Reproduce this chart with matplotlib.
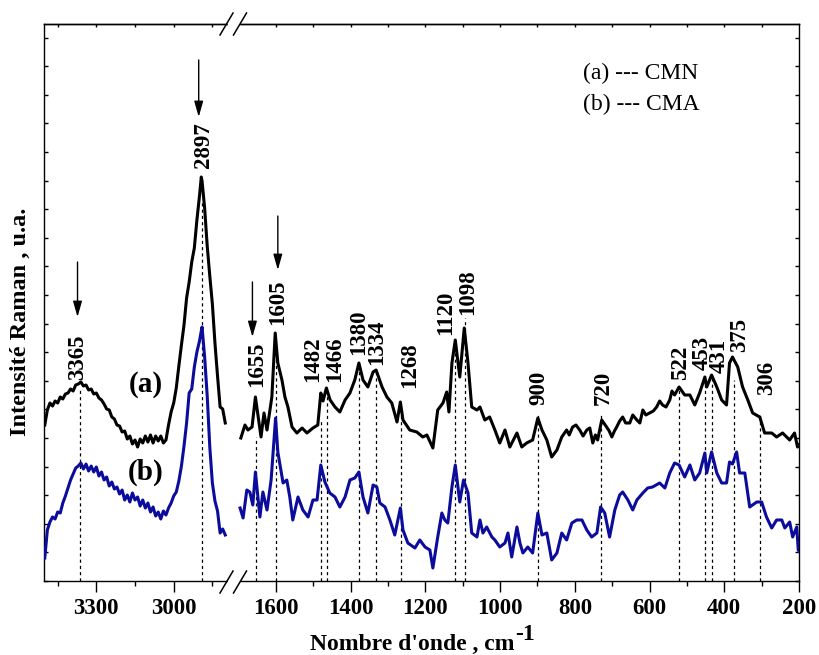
import matplotlib
matplotlib.use("Agg")
import matplotlib.pyplot as plt
from matplotlib.ticker import MultipleLocator, FixedLocator
from matplotlib.lines import Line2D
from matplotlib.patches import Rectangle

plt.rcParams["font.family"] = "Liberation Serif"

# --- data (intensity in arbitrary units) ---
# high wavenumber part (3500 - 2800 cm-1)
left_wn = [3500, 3490, 3480, 3470, 3460, 3450, 3440, 3430, 3420, 3410,
           3400, 3390, 3380, 3370, 3360, 3350, 3340, 3330, 3320, 3310,
           3300, 3290, 3280, 3270, 3260, 3250, 3240, 3230, 3220, 3210,
           3200, 3190, 3180, 3170, 3160, 3150, 3140, 3130, 3120, 3110,
           3100, 3090, 3080, 3070, 3060, 3050, 3040, 3030, 3020, 3010,
           3000, 2990, 2980, 2970, 2960, 2950, 2940, 2930, 2920, 2910,
           2900, 2893, 2890, 2880, 2870, 2860, 2850, 2840, 2830, 2820,
           2810, 2800]
cmn_left = [156, 171, 178, 175, 180, 178, 184, 182, 187, 188,
            192, 190, 196, 197, 199, 195, 196, 191, 192, 187,
            188, 183, 181, 177, 172, 171, 164, 162, 156, 155,
            149, 150, 142, 145, 137, 141, 134, 142, 138, 145,
            139, 146, 138, 145, 140, 145, 138, 141, 156, 169,
            178, 193, 215, 236, 256, 283, 299, 319, 333, 361,
            385, 404, 400, 373, 335, 305, 277, 238, 205, 174,
            172, 158]
cma_left = [23, 51, 59, 64, 62, 69, 68, 78, 85, 93,
            101, 107, 113, 115, 118, 112, 117, 110, 115, 109,
            114, 105, 109, 101, 104, 95, 99, 92, 94, 87,
            91, 81, 86, 79, 88, 81, 84, 75, 81, 73,
            78, 69, 74, 65, 69, 62, 70, 66, 73, 78,
            85, 89, 100, 115, 135, 158, 188, 192, 214, 229,
            240, 250, 254, 224, 185, 134, 98, 80, 70, 48,
            52, 46]

# low wavenumber part (1700 - 200 cm-1)
cmn_wn = [1694, 1683, 1675, 1664, 1655, 1640, 1632, 1624, 1611, 1602,
          1595, 1584, 1576, 1568, 1557, 1544, 1530, 1517, 1501, 1488,
          1480, 1474, 1465, 1455, 1442, 1429, 1415, 1402, 1389, 1378,
          1367, 1354, 1340, 1332, 1316, 1303, 1290, 1276, 1267, 1260,
          1242, 1223, 1207, 1196, 1180, 1167, 1153, 1143, 1137, 1129,
          1120, 1108, 1096, 1086, 1076, 1062, 1054, 1041, 1028, 1014,
          1001, 987, 974, 955, 942, 929, 913, 899, 888, 875,
          862, 848, 835, 822, 815, 806, 797, 787, 778, 768,
          760, 752, 745, 739, 728, 715, 708, 701, 694, 688,
          680, 672, 664, 653, 645, 634, 626, 618, 610, 600,
          590, 581, 573, 565, 556, 546, 540, 533, 521, 506,
          492, 479, 466, 452, 447, 434, 420, 407, 394, 386,
          378, 364, 351, 337, 324, 305, 292, 273, 260, 244,
          225, 212, 204, 200]
cmn_int = [143, 156, 151, 154, 184, 144, 168, 151, 184, 248,
           218, 201, 184, 174, 154, 148, 153, 148, 153, 156,
           188, 180, 193, 181, 174, 169, 181, 188, 201, 218,
           201, 194, 209, 211, 194, 184, 178, 159, 179, 161,
           151, 149, 144, 146, 133, 171, 178, 189, 169, 218,
           241, 204, 253, 218, 174, 171, 174, 161, 164, 151,
           138, 151, 134, 148, 134, 138, 141, 163, 151, 141,
           124, 131, 144, 151, 146, 154, 156, 151, 145, 151,
           153, 138, 146, 141, 161, 154, 150, 144, 150, 154,
           160, 164, 158, 158, 166, 161, 158, 171, 166, 168,
           170, 174, 180, 176, 174, 181, 190, 186, 194, 186,
           186, 176, 188, 204, 194, 206, 194, 181, 176, 218,
           224, 214, 194, 181, 168, 164, 148, 148, 144, 148,
           141, 148, 134, 136]

cma_wn = [1696, 1688, 1678, 1670, 1662, 1655, 1643, 1635, 1624, 1613,
          1601, 1595, 1581, 1571, 1563, 1555, 1541, 1528, 1514, 1501,
          1490, 1480, 1469, 1456, 1442, 1429, 1415, 1402, 1389, 1378,
          1367, 1354, 1340, 1330, 1322, 1308, 1295, 1282, 1267, 1260,
          1247, 1228, 1215, 1209, 1201, 1188, 1180, 1167, 1156, 1148,
          1140, 1129, 1120, 1108, 1098, 1086, 1076, 1062, 1054, 1046,
          1036, 1022, 1014, 1001, 987, 979, 969, 955, 947, 939,
          926, 913, 899, 888, 875, 862, 848, 835, 822, 808,
          795, 781, 768, 755, 741, 731, 720, 707, 693, 680,
          672, 658, 645, 634, 618, 605, 592, 573, 559, 546,
          533, 521, 506, 492, 479, 466, 452, 447, 434, 420,
          407, 394, 386, 378, 367, 359, 345, 332, 313, 300,
          287, 273, 260, 246, 238, 225, 217, 206, 202, 200]
cma_int = [73, 63, 91, 89, 76, 109, 64, 89, 71, 101,
           163, 129, 98, 101, 84, 61, 84, 71, 64, 81,
           81, 116, 99, 88, 84, 74, 84, 101, 103, 109,
           84, 68, 96, 94, 78, 74, 61, 46, 73, 51,
           38, 33, 41, 38, 34, 31, 13, 44, 68, 61,
           58, 94, 116, 79, 101, 88, 48, 44, 61, 48,
           54, 44, 41, 34, 38, 48, 24, 54, 38, 28,
           34, 28, 68, 46, 48, 21, 28, 48, 41, 58,
           61, 61, 51, 44, 48, 74, 68, 44, 71, 86,
           89, 81, 71, 81, 88, 93, 94, 98, 93, 108,
           118, 116, 104, 116, 101, 108, 128, 108, 129, 108,
           98, 98, 119, 117, 129, 108, 108, 74, 79, 79,
           64, 53, 61, 61, 53, 59, 44, 54, 31, 30]

# dashed marker lines: position, top
left_lines = [3365, 2892]
left_tops = [193, 381]
right_lines = [1653, 1600, 1479, 1464, 1377, 1332, 1266, 1121, 1093,
               898, 730, 521, 452, 434, 375, 305]
right_tops = [144, 236, 161, 194, 211, 209, 174, 241, 263,
              168, 168, 191, 201, 204, 201, 168]

# peak labels: text, x, y (bottom of text)
left_labels = ["3365", "2897"]
left_lab_x = [3371, 2886]
left_lab_y = [201, 413]
right_labels = ["1655", "1605", "1482", "1466", "1380", "1334", "1268",
                "1120", "1098", "900", "720", "522", "453", "431", "375", "306"]
right_lab_x = [1651, 1595, 1502, 1443, 1378, 1330, 1243,
               1145, 1086, 897, 725, 517, 458, 413, 359, 287]
right_lab_y = [194, 256, 199, 199, 226, 216, 193,
               246, 266, 176, 176, 201, 211, 208, 229, 186]

# arrows: x, start, tip
left_arrows = [(3373, 319, 264), (2903, 521, 464)]
right_arrows = [(1663, 299, 244), (1595, 365, 311)]

W, H = 819, 655
fig = plt.figure(figsize=(W / 100, H / 100), dpi=100)


def fx(px):
    return px / W


def fy(py):
    return 1 - py / H


ax1 = fig.add_axes([fx(44), fy(581), fx(233) - fx(44), fy(24) - fy(581)])
ax2 = fig.add_axes([fx(233), fy(581), fx(799) - fx(233), fy(24) - fy(581)])

black = "#000000"
blue = "#0c0c9c"
dash = (0, (2.5, 2.5))

ax1.plot(left_wn, cmn_left, color=black, lw=2.2, zorder=3)
ax1.plot(left_wn, cma_left, color=blue, lw=2.2, zorder=3)
ax2.plot(cmn_wn, cmn_int, color=black, lw=2.2, zorder=3)
ax2.plot(cma_wn, cma_int, color=blue, lw=2.2, zorder=3)

ax1.vlines(left_lines, 0, left_tops, colors="k", linestyles=dash, lw=0.9, zorder=1)
ax2.vlines(right_lines, 0, right_tops, colors="k", linestyles=dash, lw=0.9, zorder=1)

for ax, labs, xs, ys in ((ax1, left_labels, left_lab_x, left_lab_y),
                         (ax2, right_labels, right_lab_x, right_lab_y)):
    for s, x, y in zip(labs, xs, ys):
        ax.text(x, y, s, rotation=90, ha="center", va="bottom",
                fontsize=16.5, fontweight="bold")

for ax, arrows in ((ax1, left_arrows), (ax2, right_arrows)):
    for x, y0, y1 in arrows:
        ax.annotate("", xy=(x, y1), xytext=(x, y0),
                    arrowprops=dict(arrowstyle="-|>,head_length=0.95,head_width=0.27",
                                    color="k", lw=1, shrinkA=0, shrinkB=0,
                                    mutation_scale=10))

ax1.text(3107, 196, "(a)", ha="center", va="center", fontsize=21, fontweight="bold")
ax1.text(3107, 109, "(b)", ha="center", va="center", fontsize=21, fontweight="bold")
ax2.text(779, 502, "(a) --- CMN", ha="left", va="baseline", fontsize=17)
ax2.text(779, 471, "(b) --- CMA", ha="left", va="baseline", fontsize=17)

# axes
ax1.set_xlim(3503, 2770)
ax2.set_xlim(1715, 200)
for ax in (ax1, ax2):
    ax.set_ylim(0, 557)
    ax.yaxis.set_major_locator(MultipleLocator(28.6))
    for sp in ax.spines.values():
        sp.set_linewidth(1.0)
ax1.spines["right"].set_visible(False)
ax2.spines["left"].set_visible(False)

ticks1 = [3300, 3000]
ticks2 = [1600, 1400, 1200, 1000, 800, 600, 400, 200]
ax1.set_xticks(ticks1, [str(t) for t in ticks1], fontsize=16.5, fontweight="bold")
ax2.set_xticks(ticks2, [str(t) for t in ticks2], fontsize=16.5, fontweight="bold")
ax1.xaxis.set_minor_locator(FixedLocator([3450, 3150, 2850]))
ax2.xaxis.set_minor_locator(FixedLocator([1500, 1300, 1100, 900, 700, 500, 300]))
for ax in (ax1, ax2):
    ax.tick_params(axis="x", which="major", direction="out", length=8, width=1, pad=4, top=False)
    ax.tick_params(axis="x", which="minor", direction="out", length=3.8, width=1, top=False)
ax1.tick_params(axis="y", direction="in", length=3, width=1, left=True, right=False, labelleft=False)
ax2.tick_params(axis="y", direction="in", length=3, width=1, left=False, right=True,
                labelleft=False, labelright=False)

s1 = ax1.secondary_xaxis("top")
s1.set_xticks([3450, 3300, 3150, 3000, 2850])
s2 = ax2.secondary_xaxis("top")
s2.set_xticks([1600, 1500, 1400, 1300, 1200, 1100, 1000, 900, 800, 700, 600, 500, 400, 300])
for s in (s1, s2):
    s.tick_params(axis="x", direction="in", length=2.5, width=1, labeltop=False)
    s.spines["top"].set_linewidth(1.0)

# axis break marks
for sy in (24, 582):
    fig.add_artist(Rectangle((fx(228), fy(sy + 2.5)), fx(238.5) - fx(228), 5 / H,
                             transform=fig.transFigure, color="white", zorder=10))
    for cx in (226.5, 240):
        fig.add_artist(Line2D([fx(cx - 6.5), fx(cx + 6.5)], [fy(sy + 11), fy(sy - 11)],
                              transform=fig.transFigure, color="k", lw=1.1, zorder=11))

# axis titles
fig.text(fx(20), fy(322), "Intensité Raman , u.a.", rotation=90, ha="center", va="center",
         fontsize=17.5, fontweight="bold")
xl = fig.text(fx(310), fy(650), "Nombre d'onde , cm", ha="left", va="baseline",
              fontsize=17, fontweight="bold")
bb = xl.get_window_extent(renderer=fig.canvas.get_renderer())
fig.text(bb.x1 / W + 0.001, fy(640), "-1", ha="left", va="baseline",
         fontsize=17, fontweight="bold")

fig.savefig("out.png", dpi=100)
